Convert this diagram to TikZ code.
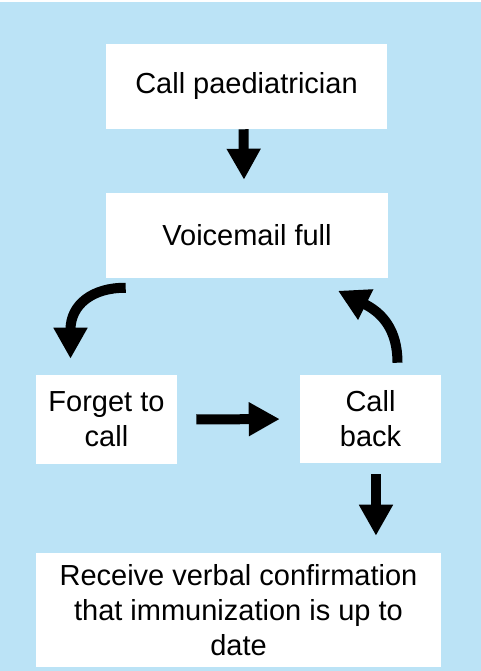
\documentclass[tikz,border=0pt]{standalone}
\usepackage{fontspec}
\setmainfont{Liberation Sans}
\usetikzlibrary{arrows.meta}
\definecolor{bgblue}{HTML}{BBE3F6}
\begin{document}
\begin{tikzpicture}[x=0.75pt,y=-0.75pt,
  box/.style={fill=white, align=center, inner sep=0pt,
    font=\fontsize{21.75}{26.25}\selectfont},
  blk/.style={line width=7.5pt, -{Triangle[width=24pt,length=23.25pt]}},
  ]
\useasboundingbox (0,0) rectangle (481,671);
\fill[white] (0,0) rectangle (481,671);
\fill[bgblue] (0,2) rectangle (481,671);

% process steps
\node[box, minimum width=210.75pt, minimum height=63.75pt] (n1) at (246.5,86.5) {Call paediatrician};
\node[box, minimum width=211.5pt, minimum height=63.75pt] (n2) at (247,235.5) {Voicemail full};
\node[box, minimum width=105.75pt, minimum height=66.75pt] (n3) at (106.5,419.5) {Forget to\\call};
\node[box, minimum width=105.75pt, minimum height=66pt] (n4) at (370.5,419) {Call\\back};
\node[box, minimum width=303.75pt, minimum height=85.5pt] (n5) at (238.5,610) {Receive verbal confirmation\\that immunization is up to\\date};

% straight block arrows
\draw[blk] ([xshift=-2.25pt]n1.south) -- ([xshift=-2.25pt,yshift=9.75pt]n2.north);
\draw[blk, shorten <=14.25pt, shorten >=15pt] (n3.east) -- (n4.west);
\draw[blk, shorten <=8.25pt, shorten >=12.75pt] ([xshift=4.1pt]n4.south) -- ([xshift=4.1pt]n4.south |- n5.north);

% curved loop arrows
\draw[blk] ([xshift=15pt,yshift=-7.125pt]n2.south west)
  .. controls (92,287.5) and (70.5,305) .. ([xshift=-27pt,yshift=12pt]n3.north);
\draw[blk] ([xshift=20.25pt,yshift=9pt]n4.north)
  .. controls (397.5,330) and (382.5,313) .. ([xshift=68.25pt,yshift=-9.375pt]n2.south);
\end{tikzpicture}
\end{document}
